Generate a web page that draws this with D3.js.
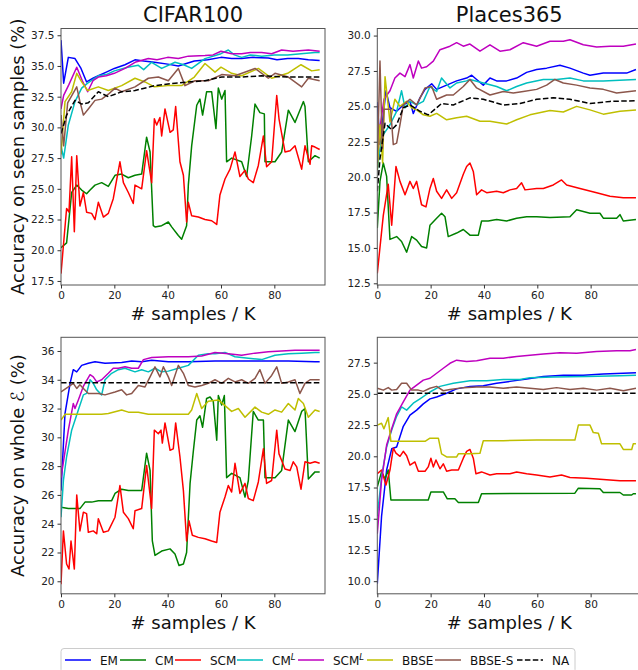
<!DOCTYPE html>
<html>
<head>
<meta charset="utf-8">
<script src="https://cdn.jsdelivr.net/npm/d3@7"></script>
<style>
  body { margin: 0; background: #fff; }
  text { font-family: "DejaVu Sans", sans-serif; }
</style>
</head>
<body>
<div id="chart"></div>
<script>
// ---- series names / colours -------------------------------------------
const methods = ["EM", "CM", "SCM", "CML", "SCML", "BBSE", "BBSES", "NA"];
const methodColors = ["#0000ff", "#008000", "#ff0000", "#00bfbf", "#bf00bf", "#bfbf00", "#8c564b", "#000000"];
const xTicks = [0, 20, 40, 60, 80];

// ---- CIFAR100, seen samples ([K samples, accuracy]) -------------------
const cifarSeenEM = [[0,37.1],[1,33.6],[2.75,35.7],[5.25,35.6],[7.5,34.8],[9.6,33.7],[12,34.0],[14,34.2],[17,34.5],[20,34.8],[24,35.1],[27.75,35.5],[31,35.4],[35,35.3],[40,35.15],[44,35.0],[47,35.2],[50,35.4],[55,35.5],[60,35.7],[64,35.6],[67.75,35.6],[72,35.7],[77.75,35.65],[81,35.5],[85,35.6],[89,35.6],[92.75,35.5],[97,35.45]];
const cifarSeenCM = [[0,20.2],[2.1,20.6],[4,24.7],[5.9,25.3],[7.75,24.9],[9.6,24.6],[10.9,24.9],[12.75,25.3],[15.25,25.5],[17.75,25.2],[20.25,26.1],[22.75,26.2],[25.25,25.9],[27.75,26.1],[30.25,26.2],[32.1,29.2],[33.4,28.0],[34.6,22.0],[35.25,21.9],[37.75,22.0],[40.25,22.3],[41.5,21.9],[44,21.2],[45.25,20.9],[47.1,22.0],[47.75,25.3],[49,28.5],[50.9,31.8],[52.1,32.3],[53.1,31.0],[54.6,32.9],[56.5,32.9],[58.1,29.9],[59,33.2],[60.25,32.3],[61.5,33.0],[62.1,27.2],[64,27.5],[67.75,27.2],[69.6,26.0],[71.5,29.3],[72.75,31.9],[74.6,31.2],[76.25,31.1],[76.5,27.2],[80.25,27.2],[82.75,28.0],[85.25,31.4],[87.75,30.4],[90.9,32.1],[91.5,31.7],[92.75,27.2],[95.25,27.7],[97,27.5]];
const cifarSeenSCM = [[0,18.1],[2.1,23.4],[3,23.1],[4,27.6],[5,21.5],[5.9,27.7],[7.1,23.6],[8.4,24.7],[9.6,23.1],[11.5,23.0],[12.75,22.5],[14,23.9],[15.9,22.7],[17.75,23.0],[19.6,24.2],[22.1,27.2],[23.4,25.5],[25.25,24.7],[27.1,23.8],[27.75,25.3],[30.25,25.0],[32.1,28.1],[34,25.5],[35,30.7],[35.9,30.2],[37.1,30.8],[37.75,29.3],[39,31.5],[40.9,29.6],[42.1,29.8],[43,31.7],[44.6,27.2],[45.9,26.1],[47.1,22.3],[47.75,23.9],[49,22.8],[51.5,22.7],[54,22.5],[56.5,22.4],[58.4,22.1],[59.6,24.5],[61.5,25.8],[63.4,26.6],[65.25,28.0],[67.1,26.0],[69,26.5],[70.25,25.8],[72.1,25.5],[74,26.9],[75.9,29.3],[77.1,26.8],[79,27.2],[80.9,32.6],[81.75,30.7],[84,28.0],[85.9,28.1],[87.75,28.5],[90.25,26.6],[91.5,28.5],[93.4,27.0],[94,28.5],[95.25,28.4],[97,28.2]];
const cifarSeenCML = [[0,28.5],[1,27.5],[2.75,30.2],[5.25,32.1],[7.75,33.2],[10,33.6],[14,34.2],[17,34.3],[20,34.6],[25,34.9],[29,35.05],[31,34.7],[34,35.3],[37.75,34.8],[42.75,35.3],[46,35.1],[49,34.8],[54,35.6],[60,36.0],[62.75,36.3],[65,35.9],[67.75,35.7],[71,35.9],[75.25,35.8],[80,35.9],[85,35.9],[90,36.0],[95.25,36.1],[97,36.1]];
const cifarSeenSCML = [[0,31.5],[1,32.6],[3,33.5],[5.9,34.9],[8,33.8],[10,32.9],[12,33.8],[14,34.1],[17,34.2],[20,34.4],[24,34.8],[27.75,35.3],[32.75,35.6],[36,35.5],[40,35.7],[44,35.6],[47.75,35.8],[54,35.85],[57,35.9],[60,36.2],[64,36.0],[67.75,36.0],[71,36.1],[75.25,36.1],[79,36.0],[82.75,36.3],[87,36.2],[92.75,36.3],[97,36.2]];
const cifarSeenBBSE = [[0,27.8],[1.5,32.1],[4,32.9],[5.9,34.4],[7.75,33.7],[10,33.0],[14,33.3],[17.75,33.0],[22.75,33.4],[27.75,34.0],[31.5,33.7],[35,33.3],[40,33.4],[45.25,33.4],[50,34.1],[54,35.2],[57.75,34.5],[60,34.9],[64,34.4],[67.75,34.2],[74,34.8],[79,34.0],[85,34.4],[90,35.1],[94,34.6],[97,34.7]];
const cifarSeenBBSES = [[0,31.0],[1,28.5],[2.5,32.0],[5.9,33.3],[7.1,32.1],[8.4,31.0],[10.25,31.5],[12.75,32.2],[15.25,32.3],[17.75,32.7],[20.25,33.2],[22.75,32.9],[27.75,33.3],[32.75,34.0],[36.5,34.1],[40.25,33.8],[44,34.8],[46.5,33.4],[50.25,33.8],[55.25,33.8],[60.25,34.3],[65.25,34.2],[72.75,34.8],[77.75,34.0],[80.25,34.4],[85.25,34.1],[90.25,33.3],[92.75,34.0],[97,33.8]];
const cifarSeenNA = [[0,29.5],[1,30.2],[2.1,31.0],[5.25,32.2],[7.75,31.9],[10.25,32.0],[14,32.9],[17.75,32.5],[22.75,32.9],[27.75,33.0],[35.25,33.4],[42.75,33.6],[47.75,33.7],[54,33.8],[60.25,34.1],[67.75,34.1],[75.25,34.2],[85.25,34.1],[97,34.1]];

// ---- Places365, seen samples ------------------------------------------
const placesSeenEM = [[0,25.3],[1,22.3],[3.25,26.1],[4.75,24.9],[7.25,24.65],[9.75,25.1],[12.25,25.35],[13.5,24.5],[16,25.6],[17.9,26.2],[20.4,26.6],[22.25,26.2],[26,26.5],[29.75,26.8],[33.5,27.0],[35.4,27.2],[37.25,26.9],[39.75,26.5],[42.25,27.0],[44.75,26.8],[48.5,26.8],[52.25,27.0],[56,27.4],[59.75,27.6],[63.5,27.7],[68.5,27.9],[72.25,27.7],[77.25,27.35],[79.75,27.2],[84.75,27.35],[89.75,27.35],[93.5,27.35],[97,27.6]];
const placesSeenCM = [[0,16.4],[1,19.7],[2.25,21.0],[3.5,20.05],[4.75,15.6],[7.25,15.8],[9.1,15.45],[11,14.7],[12.9,15.8],[14.75,15.55],[16.6,15.1],[18.5,15.0],[19.75,16.6],[22.25,17.1],[24.1,17.45],[25.4,17.2],[26.6,15.8],[29.75,16.05],[32.25,16.3],[34.75,15.9],[37.9,15.9],[39.1,16.9],[41.6,16.9],[44.75,17.0],[48.5,16.9],[52.25,17.1],[56,17.2],[59.75,17.2],[64.75,17.15],[72.25,17.2],[74.75,17.7],[79.75,17.45],[83.5,17.45],[84.75,17.1],[89.75,17.1],[91,17.35],[92.25,16.9],[97,17.0]];
const placesSeenSCM = [[0,13.2],[2.25,17.3],[4.1,19.5],[5.4,16.6],[7,20.75],[8.5,19.7],[10.4,18.75],[12.25,19.7],[13.5,19.2],[14.75,19.7],[16.6,18.05],[18.25,17.9],[19.75,19.2],[21,19.9],[22.25,19.0],[24.1,18.5],[26,19.1],[27.9,18.5],[29.75,18.9],[32.25,20.2],[33.5,20.75],[34.75,21.0],[36,20.4],[37.25,18.75],[39.1,19.1],[41,18.9],[44.75,19.0],[47.25,18.9],[49.75,19.1],[52.25,19.2],[54.1,19.6],[55.4,19.1],[59.75,19.2],[62.25,19.2],[66,19.45],[69.1,19.8],[71,19.45],[76,19.2],[82.25,18.9],[87.25,18.65],[92.25,18.55],[97,18.55]];
const placesSeenCML = [[0,20.5],[1,22.0],[2.25,23.0],[4.75,23.7],[7.25,24.65],[9.1,26.1],[10.4,24.9],[12.25,25.35],[14.75,25.1],[17.25,25.35],[19.75,26.4],[22.25,26.05],[24.1,27.0],[27.25,26.3],[29.75,26.65],[33.5,26.8],[34.75,26.9],[39.75,26.65],[44.75,26.4],[48.5,26.1],[52.25,26.4],[56,26.65],[62.25,26.9],[67.25,26.9],[72.25,27.0],[77.25,26.8],[84.75,26.8],[97,26.9]];
const placesSeenSCML = [[0,21.0],[1,23.5],[2.5,25.5],[4.75,26.1],[6.6,27.0],[8.5,27.35],[10.4,27.1],[12.25,27.95],[13.5,27.0],[15.4,28.2],[16.6,27.7],[18.5,27.8],[21,28.2],[23.5,29.0],[27.25,29.25],[29.75,29.5],[32.25,29.25],[34.75,29.4],[38.5,28.9],[42.25,29.35],[46,28.9],[49.75,29.0],[54.75,29.5],[59.75,29.25],[64.75,29.6],[69.75,29.6],[72.25,29.7],[77.25,29.35],[82.25,29.2],[87.25,29.25],[92.25,29.25],[97,29.4]];
const placesSeenBBSE = [[0,20.5],[1,23.7],[2,21.0],[2.9,27.1],[4.75,23.9],[6.6,25.5],[8.5,25.0],[11,25.35],[12.9,24.9],[14.75,24.75],[17.25,24.4],[19.75,24.3],[22.25,24.5],[26,24.05],[29.75,24.2],[33.5,24.3],[38.5,23.95],[42.25,23.95],[48.5,23.75],[52.25,24.05],[57.25,24.4],[64.75,24.7],[69.75,24.6],[74.75,25.0],[79.75,24.75],[84.75,24.45],[91,24.65],[97,24.75]];
const placesSeenBBSES = [[0,21.0],[1,28.2],[1.9,22.0],[2.5,24.8],[5,24.8],[6,22.3],[7.25,22.4],[8.5,23.7],[9.75,25.1],[12.25,25.5],[14.75,25.1],[17.9,26.3],[20.4,26.4],[22.25,25.5],[26,25.8],[28.5,25.8],[32.25,26.4],[34.75,26.9],[37.25,26.3],[42.25,25.8],[47.25,26.05],[51,25.95],[54.75,26.05],[59.75,26.2],[63.5,26.5],[66.6,26.9],[69.75,26.65],[74.75,26.5],[79.75,26.3],[84.75,26.2],[89.75,25.95],[97,26.1]];
const placesSeenNA = [[0,19.0],[1,21.3],[2.9,23.8],[5.4,23.35],[7.25,23.7],[9.75,24.9],[12.25,25.1],[16,24.65],[19.1,24.4],[22.25,24.9],[24.1,25.2],[28.5,25.1],[34.75,25.6],[39.75,25.5],[47.25,25.1],[53.5,25.2],[59.75,25.5],[66,25.6],[72.25,25.5],[79.75,25.2],[87.25,25.35],[97,25.4]];

// ---- CIFAR100, whole set ----------------------------------------------
const cifarWholeEM = [[0,26.3],[1.5,31.65],[3.4,33.75],[4.6,34.7],[5.9,34.55],[7.75,35.0],[10.25,35.15],[12.75,35.25],[16.5,35.15],[22.75,35.2],[26.5,35.3],[30.25,35.25],[34,35.35],[40.25,35.25],[47.75,35.25],[57.75,35.3],[67.75,35.3],[77.75,35.3],[85.25,35.3],[95.25,35.25],[97,35.25]];
const cifarWholeCM = [[0,25.15],[2.75,25.05],[5.25,25.05],[7.1,25.05],[9,25.5],[11.5,25.5],[14,25.6],[16.5,25.6],[19,25.6],[20.25,26.1],[22.75,26.4],[25.25,26.3],[27.75,26.3],[30.25,26.3],[32.1,28.9],[33.4,27.7],[34.25,22.8],[35.25,21.8],[37.75,22.1],[40.9,22.25],[42.75,21.9],[44.25,21.1],[45.9,21.2],[47.1,22.0],[48.4,26.8],[49.6,29.0],[50.9,31.2],[52.1,31.5],[53.1,30.7],[54.6,32.7],[55.9,32.8],[57.1,32.5],[58.4,29.8],[59,32.9],[60.25,32.25],[61.25,32.9],[62.1,27.2],[64,27.5],[67.1,27.2],[69,25.85],[70.25,27.0],[72.1,31.8],[74,31.2],[75.9,31.2],[76.5,27.2],[80.25,27.2],[82.75,27.7],[85.25,31.2],[87.75,30.4],[90.25,31.8],[91.5,32.0],[92.75,27.1],[95.25,27.6],[97,27.6]];
const cifarWholeSCM = [[0,19.8],[0.9,23.5],[2.1,21.2],[3,20.85],[3.75,22.8],[5,20.85],[5.9,26.0],[7.1,23.5],[8.4,24.8],[9.6,24.7],[10.25,23.4],[12.1,23.5],[13.4,23.3],[14,24.35],[15.9,23.4],[17.75,23.5],[20.25,24.45],[22.1,26.65],[23.4,24.8],[25.25,24.35],[27.1,23.65],[27.75,24.9],[30.25,25.05],[32.1,28.05],[34,25.05],[35,30.5],[36.5,30.25],[37.5,30.5],[38,29.6],[39,31.0],[40.9,29.1],[42.1,29.2],[43,31.0],[44.6,28.65],[45.9,26.3],[47.1,22.8],[48,24.2],[49.25,23.2],[51.5,23.05],[54,22.95],[56.5,22.8],[58.4,22.7],[59.6,24.8],[61.5,25.85],[62.75,26.65],[64,26.2],[65.25,28.2],[67.1,26.1],[69,26.8],[70.25,25.75],[72.1,25.6],[74,26.9],[75.9,29.2],[77.1,26.8],[79,27.0],[80.9,30.5],[81.75,28.85],[84,27.8],[85.9,27.7],[87.1,28.3],[88.4,27.95],[90,26.4],[91.5,28.3],[93.4,28.2],[95.25,28.3],[97,28.2]];
const cifarWholeCML = [[0,24.45],[0.9,27.0],[2.1,28.65],[4,30.5],[6.5,31.9],[8.4,32.95],[9.6,33.05],[10.9,34.0],[12.1,33.75],[13.4,33.3],[15.25,32.95],[16.5,34.0],[19,34.45],[21.5,34.7],[24,34.8],[27.75,34.55],[30.25,34.7],[32.75,34.55],[35.25,34.8],[37.75,34.55],[40.25,34.6],[44,34.8],[47.75,35.0],[51.5,35.7],[55.25,35.8],[57.75,35.8],[61.5,35.9],[65.25,35.6],[70.25,35.5],[75.25,35.4],[80.25,35.7],[85.25,35.8],[90.25,35.85],[95.25,35.9],[97,35.9]];
const cifarWholeSCML = [[0,27.2],[2.75,30.5],[4.6,32.35],[5.25,32.0],[6.5,32.6],[8.4,33.55],[10.9,34.35],[12.1,34.2],[13.4,33.85],[15.25,34.0],[17.75,34.45],[19.6,34.8],[21.5,34.8],[24,34.9],[26.5,34.8],[29,34.8],[30.9,35.4],[34,35.55],[40.25,35.6],[47.75,35.6],[52.75,35.65],[57.75,35.9],[62.75,35.8],[67.75,35.7],[72.75,35.85],[77.75,35.95],[82.75,36.0],[87.75,36.05],[95.25,36.05],[97,36.05]];
const cifarWholeBBSE = [[0,31.2],[1.5,31.6],[5.25,31.6],[10.25,31.6],[15.25,31.6],[17.75,31.65],[22.75,31.9],[25.25,31.75],[29,31.75],[32.75,31.6],[37.75,31.6],[42.75,31.6],[47.75,31.6],[49,31.9],[50.9,33.05],[52.75,32.0],[55.25,32.5],[59,32.6],[61.5,32.2],[64,31.8],[66.5,32.0],[69,31.4],[72.75,32.1],[75.25,31.75],[77.75,31.6],[80.25,31.9],[82.75,31.75],[85.25,32.35],[87.75,31.9],[89,32.7],[90.9,32.35],[92.75,31.4],[95.25,31.9],[97,31.8]];
const cifarWholeBBSES = [[0,33.15],[2.75,33.5],[4.6,33.75],[5.9,33.4],[7.1,33.65],[8.4,33.4],[10.25,33.05],[14,33.05],[16.5,32.95],[20.25,33.15],[22.75,33.3],[24.6,32.95],[26.5,33.05],[29,33.6],[31.5,33.5],[33.4,34.2],[35.25,34.9],[37.1,34.2],[38.4,34.9],[40.25,34.2],[41.5,33.6],[44,35.0],[45.9,34.45],[47.75,33.6],[50.25,33.5],[52.75,33.6],[55.25,33.75],[57.75,34.0],[60.25,33.75],[62.75,34.1],[65.25,33.85],[67.75,34.0],[70.25,33.75],[72.75,34.1],[74.6,34.7],[76.5,33.75],[79,34.3],[80.9,34.9],[82.75,33.75],[85.25,33.85],[87.75,34.0],[89.6,33.05],[91.5,33.75],[93.4,34.0],[95.25,34.0],[97,34.0]];
const cifarWholeNA = [[0,33.8],[25,33.8],[50,33.8],[75,33.8],[97,33.8]];

// ---- Places365, whole set ---------------------------------------------
const placesWholeEM = [[0,9.8],[1.6,15.2],[3.5,18.9],[5.4,20.6],[7.25,20.75],[9.75,22.4],[12.25,23.3],[14.75,23.7],[17.25,24.2],[19.75,24.6],[22.25,24.75],[26,25.05],[29.75,25.4],[34.75,25.6],[39.75,25.65],[44.75,25.85],[49.75,26.0],[56,26.2],[62.25,26.4],[69.75,26.5],[77.25,26.5],[84.75,26.6],[92.25,26.65],[97,26.7]];
const placesWholeCM = [[0,17.55],[1.6,18.75],[2.9,18.2],[4.1,18.9],[5.1,16.5],[19.1,16.5],[20.1,17.15],[24.75,17.15],[26.25,16.6],[29.1,16.6],[30.4,16.3],[37.9,16.3],[39.1,17.0],[74.1,17.05],[75.4,17.45],[83.5,17.4],[84.75,17.1],[91,17.1],[92.25,16.9],[95.4,16.9],[96,17.0],[97,17.0]];
const placesWholeSCM = [[0,18.6],[1.6,18.9],[3.25,17.7],[4.75,18.9],[6,20.65],[7,20.25],[8.5,20.0],[9.75,20.4],[11,20.05],[12.25,19.3],[14.1,19.55],[15.4,18.8],[17.9,18.8],[19.1,19.15],[20.1,19.85],[21,19.15],[22,19.7],[23.5,19.0],[24.75,19.4],[26,18.8],[27.9,18.9],[30.4,18.9],[32.25,19.85],[33.5,20.4],[34.75,20.55],[36,19.85],[37,18.6],[39.1,18.75],[42.25,18.5],[44.75,18.6],[49.75,18.6],[52.25,18.75],[56,18.6],[59.75,18.5],[64.75,18.35],[69.1,18.5],[72.25,18.3],[78.5,18.25],[84.75,18.15],[91,18.05],[97,18.05]];
const placesWholeCML = [[0,15.2],[1.6,18.35],[3.5,20.75],[5.4,22.1],[7.25,23.2],[9.1,23.95],[11,23.7],[13.5,24.25],[16,24.6],[19.75,25.15],[23.5,25.6],[28.5,25.85],[34.75,26.05],[41,26.05],[47.25,26.15],[53.5,26.15],[57.25,26.3],[66,26.35],[78.5,26.4],[91,26.45],[97,26.5]];
const placesWholeSCML = [[0,13.8],[1.6,18.1],[3.5,20.9],[5.4,22.2],[7.25,23.4],[9.75,24.35],[12.25,25.3],[14.75,25.7],[17.25,26.1],[19.75,26.25],[22.25,26.65],[24.75,27.05],[27.25,27.45],[29.75,27.7],[33.5,27.6],[37.25,27.65],[42.25,27.85],[47.25,27.85],[52.25,28.0],[57.25,28.1],[62.25,28.2],[68.5,28.3],[74.75,28.25],[82.25,28.4],[89.75,28.45],[94.75,28.45],[97,28.55]];
const placesWholeBBSE = [[0,22.5],[1.6,22.65],[2.5,22.2],[4.1,23.1],[5.1,21.2],[7.25,21.2],[12.25,21.2],[17.9,21.2],[19.75,21.45],[22.9,21.45],[24.1,20.2],[26,19.95],[29.75,19.95],[30.4,20.2],[34.75,20.2],[38.5,20.25],[39.75,21.25],[47.25,21.25],[59.75,21.3],[74.1,21.3],[75.4,22.5],[79.75,22.5],[81,21.9],[82.9,21.85],[84.1,21.0],[91,21.0],[92.25,20.55],[95.4,20.55],[96,21.0],[97,21.0]];
const placesWholeBBSES = [[0,25.45],[2.25,25.3],[4.1,25.5],[5.4,25.3],[7.25,25.35],[9.1,25.85],[11,25.85],[12.9,25.3],[15.4,25.3],[17.25,25.2],[19.75,25.45],[22.25,25.6],[24.75,25.25],[27.25,25.35],[32.25,25.5],[37.25,25.55],[42.25,25.55],[47.25,25.45],[52.25,25.55],[57.25,25.45],[62.25,25.35],[67.25,25.5],[72.25,25.35],[77.25,25.45],[82.25,25.3],[87.25,25.45],[92.25,25.25],[97,25.45]];
const placesWholeNA = [[0,25.05],[25,25.05],[50,25.05],[75,25.05],[97,25.05]];

// ---- y tick labels -----------------------------------------------------
const cifarSeenYTicks = [17.5, 20, 22.5, 25, 27.5, 30, 32.5, 35, 37.5];
const placesSeenYTicks = [12.5, 15, 17.5, 20, 22.5, 25, 27.5, 30];
const cifarWholeYTicks = [20, 22, 24, 26, 28, 30, 32, 34, 36];
const placesWholeYTicks = [10, 12.5, 15, 17.5, 20, 22.5, 25, 27.5];

// ---- layout ------------------------------------------------------------
const W = 638, H = 670;
const colLeft = [61, 377.3], panelW = 264;
const rowTop = [28.5, 337.3], panelH = 256.5;

const panels = [
  {col: 0, row: 0, title: "CIFAR100", yDomain: [17.17, 38.05], yTicks: cifarSeenYTicks, fmt: ".1f",
   series: [cifarSeenEM, cifarSeenCM, cifarSeenSCM, cifarSeenCML, cifarSeenSCML, cifarSeenBBSE, cifarSeenBBSES, cifarSeenNA]},
  {col: 1, row: 0, title: "Places365", yDomain: [12.38, 30.5], yTicks: placesSeenYTicks, fmt: ".1f",
   series: [placesSeenEM, placesSeenCM, placesSeenSCM, placesSeenCML, placesSeenSCML, placesSeenBBSE, placesSeenBBSES, placesSeenNA]},
  {col: 0, row: 1, yDomain: [19.13, 36.95], yTicks: cifarWholeYTicks, fmt: "d",
   series: [cifarWholeEM, cifarWholeCM, cifarWholeSCM, cifarWholeCML, cifarWholeSCML, cifarWholeBBSE, cifarWholeBBSES, cifarWholeNA]},
  {col: 1, row: 1, yDomain: [8.99, 29.53], yTicks: placesWholeYTicks, fmt: ".1f",
   series: [placesWholeEM, placesWholeCM, placesWholeSCM, placesWholeCML, placesWholeSCML, placesWholeBBSE, placesWholeBBSES, placesWholeNA]}
];
const rowLabels = ["Accuracy on seen samples (%)", "Accuracy on whole \u2130 (%)"];

const svg = d3.select("#chart").append("svg")
  .attr("width", W).attr("height", H)
  .style("background", "#fff");

panels.forEach((p, i) => {
  const x0 = colLeft[p.col], y0 = rowTop[p.row];
  const x = d3.scaleLinear().domain([0, 99]).range([0, panelW]);
  const y = d3.scaleLinear().domain(p.yDomain).range([panelH, 0]);
  const g = svg.append("g").attr("transform", `translate(${x0},${y0})`);

  g.append("clipPath").attr("id", "clip" + i)
    .append("rect").attr("width", panelW).attr("height", panelH);

  const line = d3.line().x(d => x(d[0])).y(d => y(d[1]));
  const lines = g.append("g").attr("clip-path", `url(#clip${i})`);
  p.series.forEach((s, k) => {
    lines.append("path")
      .datum(s)
      .attr("fill", "none")
      .attr("stroke", methodColors[k])
      .attr("stroke-width", 1.5)
      .attr("stroke-linejoin", "round")
      .attr("stroke-dasharray", methods[k] === "NA" ? "5.5,2.4" : null)
      .attr("d", line);
  });

  // frame
  g.append("rect").attr("width", panelW).attr("height", panelH)
    .attr("fill", "none").attr("stroke", "#555").attr("stroke-width", 1);

  const xAxis = g.append("g").attr("transform", `translate(0,${panelH})`)
    .call(d3.axisBottom(x).tickValues(xTicks).tickSize(3.5).tickPadding(3).tickFormat(d3.format("d")));
  const yAxis = g.append("g")
    .call(d3.axisLeft(y).tickValues(p.yTicks).tickSize(3.5).tickPadding(3).tickFormat(d3.format(p.fmt)));
  [xAxis, yAxis].forEach(a => {
    a.select(".domain").remove();
    a.selectAll(".tick line").attr("stroke", "#333");
    a.selectAll(".tick text").attr("fill", "#222").style("font-size", "10.5px")
      .style("font-family", "DejaVu Sans");
  });

  if (p.title) {
    g.append("text").attr("x", panelW / 2).attr("y", -7)
      .attr("text-anchor", "middle").style("font-size", "21px").attr("fill", "#111")
      .text(p.title);
  }
  g.append("text").attr("x", panelW / 2).attr("y", panelH + 35)
    .attr("text-anchor", "middle").style("font-size", "18px").attr("fill", "#111")
    .text("# samples / K");
  if (p.col === 0) {
    g.append("text")
      .attr("transform", `translate(${24 - x0},${panelH / 2}) rotate(-90)`)
      .attr("text-anchor", "middle").style("font-size", "18px").attr("fill", "#111")
      .text(rowLabels[p.row]);
  }
});

// ---- legend ------------------------------------------------------------
const legendItems = ["EM", "CM", "SCM", "CM|L", "SCM|L", "BBSE", "BBSE-S", "NA"];
const legendStarts = [65, 120, 175, 237, 298, 367, 435, 517];
const legend = svg.append("g");
legend.append("rect").attr("x", 61).attr("y", 648.5).attr("width", 514).attr("height", 24)
  .attr("rx", 3).attr("fill", "#fff").attr("stroke", "#ccc");
legendItems.forEach((name, k) => {
  const lx = legendStarts[k];
  legend.append("line").attr("x1", lx).attr("x2", lx + 26).attr("y1", 660).attr("y2", 660)
    .attr("stroke", methodColors[k]).attr("stroke-width", 1.5)
    .attr("stroke-dasharray", methods[k] === "NA" ? "5.5,2.4" : null);
  const t = legend.append("text").attr("x", lx + 35).attr("y", 664.5)
    .style("font-size", "12px").attr("fill", "#111");
  const parts = name.split("|");
  t.append("tspan").text(parts[0]);
  if (parts[1]) {
    t.append("tspan").attr("dy", -5).style("font-size", "8.5px").style("font-style", "italic").text(parts[1]);
  }
});
</script>
</body>
</html>
